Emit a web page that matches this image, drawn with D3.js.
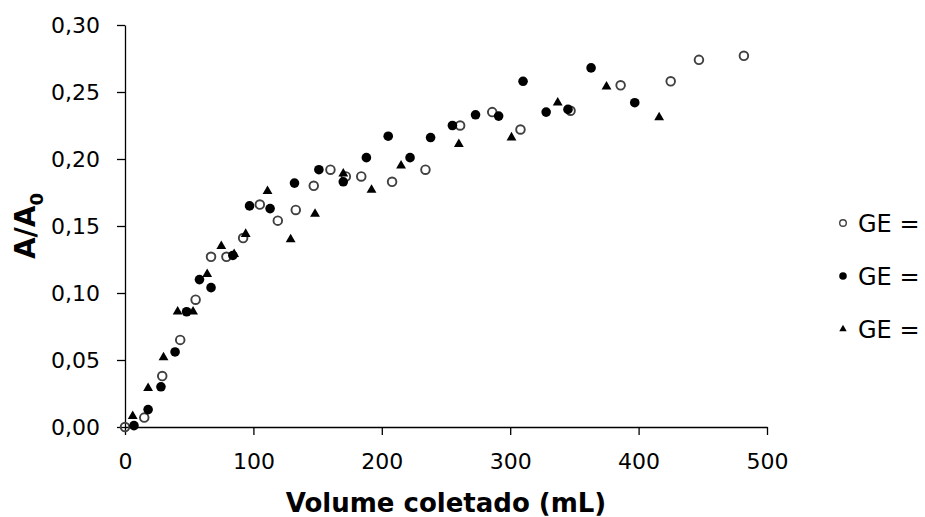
<!DOCTYPE html>
<html>
<head>
<meta charset="utf-8">
<script src="https://cdn.jsdelivr.net/npm/d3@7"></script>
<style>
  html, body { margin: 0; padding: 0; background: #ffffff; }
  svg { display: block; }
  text { font-family: "DejaVu Sans", Verdana, sans-serif; fill: #000; }
</style>
</head>
<body>
<svg id="chart" width="925" height="517"></svg>
<script>
// ---- Data ----
const xTicks = [0, 100, 200, 300, 400, 500];
const yTicks = [0, 0.05, 0.10, 0.15, 0.20, 0.25, 0.30];
const yTickLabels = ["0,00", "0,05", "0,10", "0,15", "0,20", "0,25", "0,30"];
const xTitle = "Volume coletado (mL)";
const legendLabels = ["GE =", "GE =", "GE ="];

// Series 1: open circles
const s1x = [0, 15, 29, 43, 55, 67, 79, 92, 105, 119, 133, 147, 160, 172, 184, 208, 234, 261, 286, 308, 347, 386, 425, 447, 482];
const s1y = [0.000, 0.007, 0.038, 0.065, 0.095, 0.127, 0.127, 0.141, 0.166, 0.154, 0.162, 0.180, 0.192, 0.187, 0.187, 0.183, 0.192, 0.225, 0.235, 0.222, 0.236, 0.255, 0.258, 0.274, 0.277];

// Series 2: filled circles
const s2x = [7, 18, 28, 39, 48, 58, 67, 84, 97, 113, 132, 151, 170, 188, 205, 222, 238, 255, 273, 291, 310, 328, 345, 363, 397];
const s2y = [0.001, 0.013, 0.030, 0.056, 0.086, 0.110, 0.104, 0.128, 0.165, 0.163, 0.182, 0.192, 0.183, 0.201, 0.217, 0.201, 0.216, 0.225, 0.233, 0.232, 0.258, 0.235, 0.237, 0.268, 0.242];

// Series 3: filled triangles
const s3x = [6, 18, 30, 41, 53, 64, 75, 85, 94, 111, 129, 148, 170, 192, 215, 260, 301, 337, 375, 416];
const s3y = [0.008, 0.029, 0.052, 0.086, 0.086, 0.114, 0.135, 0.129, 0.144, 0.176, 0.140, 0.159, 0.189, 0.177, 0.195, 0.211, 0.216, 0.242, 0.254, 0.231];

// ---- Layout ----
const svg = d3.select("#chart");
const plot = { left: 125, right: 767, top: 25, bottom: 427 };

const x = d3.scaleLinear().domain([0, 500]).range([plot.left, plot.right]);
const y = d3.scaleLinear().domain([0, 0.30]).range([plot.bottom, plot.top]);

// Axes
const xAxis = d3.axisBottom(x).tickValues(xTicks).tickSize(8).tickPadding(18).tickSizeOuter(0)
  .tickFormat(d3.format("d"));
const yAxis = d3.axisLeft(y).tickValues(yTicks).tickSize(8).tickPadding(17).tickSizeOuter(0)
  .tickFormat((d, i) => yTickLabels[i]);

const gx = svg.append("g").attr("transform", `translate(0,${plot.bottom})`).call(xAxis);
const gy = svg.append("g").attr("transform", `translate(${plot.left},0)`).call(yAxis);

[gx, gy].forEach(g => {
  g.selectAll("path.domain").attr("stroke", "#000").attr("stroke-width", 1.3);
  g.selectAll(".tick line").attr("stroke", "#000").attr("stroke-width", 1.3);
  g.selectAll(".tick text")
    .style("font-family", '"DejaVu Sans", Verdana, sans-serif')
    .style("font-size", "22px").attr("fill", "#000");
});

// Axis titles
svg.append("text")
  .attr("x", (plot.left + plot.right) / 2)
  .attr("y", 512)
  .attr("text-anchor", "middle")
  .style("font-size", "26px")
  .style("font-weight", "bold")
  .text(xTitle);

const yt = svg.append("text")
  .attr("transform", `translate(35,${(plot.top + plot.bottom) / 2}) rotate(-90)`)
  .attr("text-anchor", "middle")
  .style("font-size", "28px")
  .style("font-weight", "bold");
yt.append("tspan").text("A/A");
yt.append("tspan").attr("dy", 8).style("font-size", "18px").text("0");

// ---- Marks ----
const series = [
  { xs: s1x, ys: s1y, type: "open" },
  { xs: s2x, ys: s2y, type: "filled" },
  { xs: s3x, ys: s3y, type: "tri" }
];

const triSym = d3.symbol().type(d3.symbolTriangle).size(42);
const triSymLegend = d3.symbol().type(d3.symbolTriangle).size(24);

series.forEach(s => {
  const pts = s.xs.map((v, i) => ({ x: v, y: s.ys[i] }));
  const g = svg.append("g");
  if (s.type === "open") {
    g.selectAll("circle").data(pts).join("circle")
      .attr("cx", d => x(d.x)).attr("cy", d => y(d.y)).attr("r", 4.3)
      .attr("fill", "none").attr("stroke", "#404040").attr("stroke-width", 1.9);
  } else if (s.type === "filled") {
    g.selectAll("circle").data(pts).join("circle")
      .attr("cx", d => x(d.x)).attr("cy", d => y(d.y)).attr("r", 4.8)
      .attr("fill", "#000");
  } else {
    g.selectAll("path").data(pts).join("path")
      .attr("d", triSym)
      .attr("transform", d => `translate(${x(d.x)},${y(d.y)})`)
      .attr("fill", "#000");
  }
});

// ---- Legend ----
const legendY = [223, 276, 329];
const legend = svg.append("g");
series.forEach((s, i) => {
  const cy = legendY[i];
  if (s.type === "open") {
    legend.append("circle").attr("cx", 843).attr("cy", cy).attr("r", 3.3)
      .attr("fill", "none").attr("stroke", "#404040").attr("stroke-width", 1.4);
  } else if (s.type === "filled") {
    legend.append("circle").attr("cx", 843).attr("cy", cy).attr("r", 3.8).attr("fill", "#000");
  } else {
    legend.append("path").attr("d", triSymLegend)
      .attr("transform", `translate(843,${cy})`).attr("fill", "#000");
  }
  legend.append("text")
    .attr("x", 858).attr("y", cy)
    .attr("dy", "0.36em")
    .style("font-size", "24px")
    .text(legendLabels[i]);
});
</script>
</body>
</html>
